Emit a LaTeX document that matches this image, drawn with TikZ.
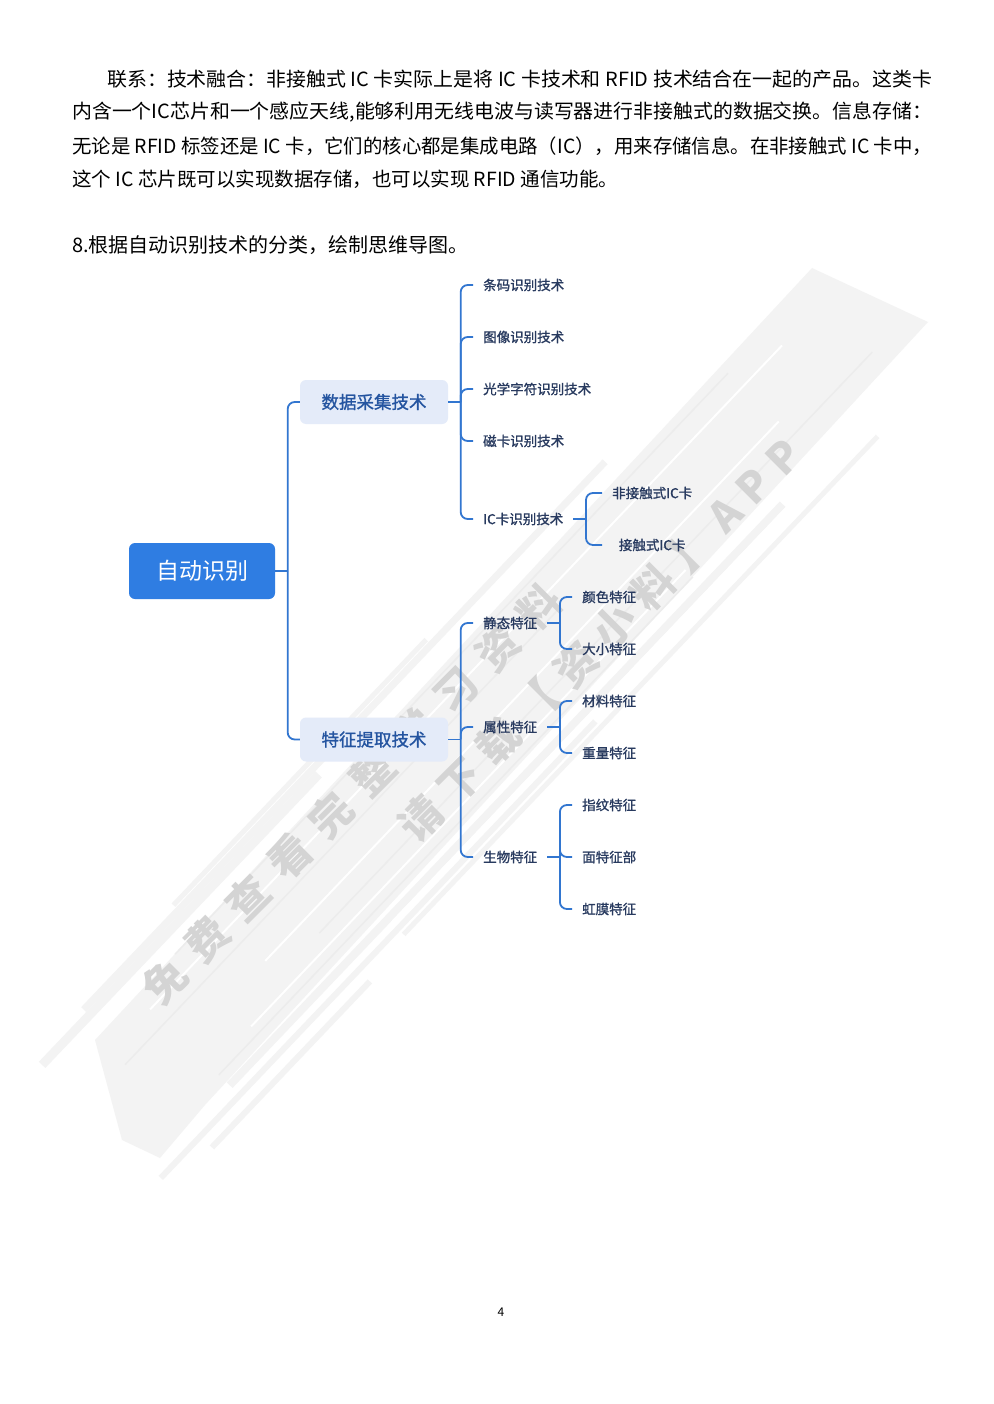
\documentclass[tikz,border=0pt]{standalone}
\usepackage{graphicx}
\usepackage{fontspec}
\setmainfont{Noto Sans CJK SC}
\newfontfamily\medfont[FakeBold=1.2]{Noto Sans CJK SC}

\definecolor{rootblue}{RGB}{47,125,226}
\definecolor{midfill}{RGB}{228,235,249}
\definecolor{midtext}{RGB}{36,84,160}
\definecolor{leaftext}{RGB}{40,58,95}
\definecolor{linkblue}{RGB}{50,118,208}
\definecolor{wmband}{RGB}{243,243,243}
\definecolor{wmstreak}{RGB}{236,236,236}
\definecolor{wmtext}{RGB}{212,212,212}

\tikzset{
  para/.style={anchor=west, inner sep=0pt, font=\fontsize{19.5}{19.5}\selectfont},
  rootbox/.style={fill=rootblue, text=white, rounded corners=6pt, minimum width=146pt,
    minimum height=56pt, font=\fontsize{23}{23}\selectfont},
  midbox/.style={fill=midfill, text=midtext, rounded corners=6pt, minimum width=148pt,
    minimum height=44pt, font=\fontsize{17.5}{17.5}\medfont},
  leaf/.style={text=leaftext, anchor=west, inner xsep=10pt, inner ysep=2pt,
    font=\fontsize{13.5}{13.5}\medfont},
  ickard/.style={minimum width=100pt},
  link/.style={draw=linkblue, line width=1.8pt, rounded corners=7pt},
  wmark/.style={text=wmtext, rotate=45, font=\fontsize{42}{42}\selectfont\bfseries}
}

\begin{document}
\begin{tikzpicture}[x=1pt,y=-1pt]
\fill[white] (0,0) rectangle (993,1404);
\useasboundingbox (0,0) rectangle (993,1404);

% watermark band
\fill[wmband] (95,1040) -- (812,268) -- (928,322) -- (205,1105) -- (160,1158) -- (122,1140) -- cycle;
\foreach \d/\a/\b/\w in {-95/0.18/0.5/5, -88/0.06/0.72/7, -80/0.0/0.35/9, 70/0.1/0.8/8,
  84/0.0/0.55/6, 92/0.3/0.9/5, 100/0.05/0.25/6}
  \draw[wmband, line width=\w pt]
    ({100+0.724*\d+790*\a},{1120+0.689*\d-830*\a}) -- ({100+0.724*\d+790*\b},{1120+0.689*\d-830*\b});
\foreach \d/\a/\b in {-60/0.15/0.85, -20/0.05/0.6, 30/0.25/0.95, 55/0.1/0.7}
  \draw[wmstreak, line width=1.5pt]
    ({100+0.724*\d+790*\a},{1120+0.689*\d-830*\a}) -- ({100+0.724*\d+790*\b},{1120+0.689*\d-830*\b});
\foreach \d/\a/\b in {-40/0.1/0.9, 10/0.2/0.85, 45/0.15/0.7, 75/0.3/0.95}
  \draw[white, line width=2pt]
    ({100+0.724*\d+790*\a},{1120+0.689*\d-830*\a}) -- ({100+0.724*\d+790*\b},{1120+0.689*\d-830*\b});
\node[wmark] (wm1) at (352,794) {\addfontfeature{LetterSpace=40}免费查看完整学习资料};
\node[wmark] (wm2) at (600,640) {\addfontfeature{LetterSpace=30}请下载【资小料】APP};

% text
\node[para] (l1) at (107,79) {\resizebox{825pt}{\height}{联系：技术融合：非接触式 IC 卡实际上是将 IC 卡技术和 RFID 技术结合在一起的产品。这类卡}};
\node[para] (l2) at (72,112) {\resizebox{860pt}{\height}{内含一个IC芯片和一个感应天线,能够利用无线电波与读写器进行非接触式的数据交换。信息存储：}};
\node[para] (l3) at (72,146) {\resizebox{860pt}{\height}{无论是 RFID 标签还是 IC 卡，它们的核心都是集成电路（IC），用来存储信息。在非接触式 IC 卡中，}};
\node[para] (l4) at (72,179) {这个 IC 芯片既可以实现数据存储，也可以实现 RFID 通信功能。};
\node[para, font=\fontsize{20}{20}\selectfont] (q8) at (72,245) {8.根据自动识别技术的分类，绘制思维导图。};

% mind map
\node[rootbox] (auto) at (202,571) {自动识别};
\node[midbox] (cj) at (374,402) {数据采集技术};
\node[midbox] (tz) at (374,739.5) {特征提取技术};

\node[leaf] (tm) at (473,285) {条码识别技术};
\node[leaf] (tx) at (473,337) {图像识别技术};
\node[leaf] (gx) at (473,389) {光学字符识别技术};
\node[leaf] (ck) at (473,441) {磁卡识别技术};
\node[leaf] (ic) at (473,519) {IC卡识别技术};
\node[leaf, ickard] (fjc) at (602,493) {非接触式IC卡};
\node[leaf, ickard] (jc) at (602,545) {接触式IC卡};

\node[leaf] (jt) at (473,623) {静态特征};
\node[leaf] (sx) at (473,727) {属性特征};
\node[leaf] (sw) at (473,857) {生物特征};
\node[leaf] (ys) at (572,597) {颜色特征};
\node[leaf] (dx) at (572,649) {大小特征};
\node[leaf] (cl) at (572,701) {材料特征};
\node[leaf] (zl) at (572,753) {重量特征};
\node[leaf] (zw) at (572,805) {指纹特征};
\node[leaf] (mb) at (572,857) {面特征部};
\node[leaf] (hm) at (572,909) {虹膜特征};

\foreach \p/\kids in {auto/{cj,tz}, cj/{tm,tx,gx,ck,ic}, ic/{fjc,jc}, tz/{jt,sx,sw},
  jt/{ys,dx}, sx/{cl,zl}, sw/{zw,mb,hm}} {
  \coordinate (\p-j) at ([xshift=12.5pt]\p.east);
  \draw[link] (\p.east) -- (\p-j);
  \foreach \k in \kids
    \draw[link] (\p-j) |- (\k.west);
}

\node[font=\fontsize{12}{12}\selectfont] (pg) at (501,1312) {4};
\end{tikzpicture}
\end{document}
